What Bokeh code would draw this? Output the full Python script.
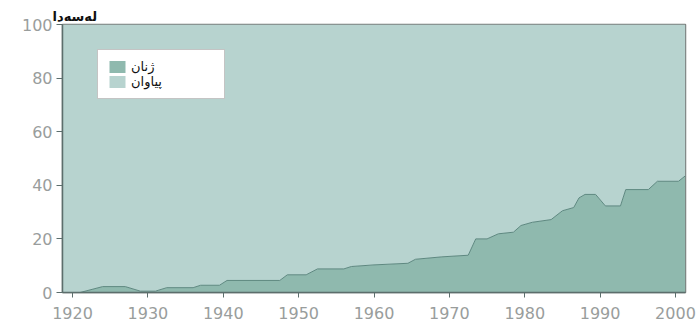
from bokeh.plotting import figure
from bokeh.models import Legend, LegendItem, ColumnDataSource, FixedTicker
from bokeh.embed import file_html
from bokeh.resources import INLINE

# Data (women's share of seats, %)
years = [1918.7, 1921.0, 1924.0, 1927.0, 1929.0, 1931.0, 1932.5, 1936.0, 1937.0,
         1939.5, 1940.5, 1947.5, 1948.5, 1951.0, 1952.5, 1956.0, 1957.0, 1960.0,
         1964.5, 1965.5, 1969.0, 1972.5, 1973.5, 1975.0, 1976.5, 1978.5, 1979.5,
         1981.0, 1983.5, 1985.0, 1986.5, 1987.2, 1988.0, 1989.4, 1990.7, 1992.7,
         1993.4, 1996.4, 1997.6, 2000.4, 2001.3]
women = [0.0, 0.0, 2.2, 2.2, 0.5, 0.5, 1.8, 1.8, 2.7,
         2.7, 4.5, 4.5, 6.6, 6.6, 8.8, 8.8, 9.7, 10.3,
         10.9, 12.4, 13.3, 13.9, 20.0, 20.0, 21.9, 22.5, 25.0,
         26.2, 27.2, 30.5, 31.7, 35.3, 36.6, 36.6, 32.3, 32.3,
         38.4, 38.4, 41.5, 41.5, 43.5]
total = [100.0] * len(years)

x_ticks = [1920, 1930, 1940, 1950, 1960, 1970, 1980, 1990, 2000]
y_ticks = [0, 20, 40, 60, 80, 100]

label_women = "ژنان"
label_men = "پیاوان"
y_title = "لەسەدا"

src = ColumnDataSource(dict(year=years, women=women, total=total))

p = figure(width=697, height=321, output_backend="svg", toolbar_location=None,
           x_range=(1918.67, 2001.33), y_range=(0, 100),
           min_border_left=62, min_border_right=12, min_border_top=24,
           min_border_bottom=29)
p.background_fill_color = "white"
p.border_fill_color = "white"
p.outline_line_color = "#7a7f7e"
p.outline_line_width = 1.5
p.grid.visible = False

p.title.text = y_title
p.title.align = "left"
p.title.offset = -10
p.title.standoff = 2
p.title.text_font = "DejaVu Sans"
p.title.text_font_size = "13px"
p.title.text_font_style = "bold"
p.title.text_color = "#111111"

men_r = p.varea(x="year", y1="women", y2="total", source=src,
                fill_color="#b7d3cf")
women_r = p.varea(x="year", y1=0, y2="women", source=src,
                  fill_color="#8fb9ae")
p.line(x="year", y="women", source=src, line_color="#5e8880", line_width=1)

for ax in (p.xaxis[0], p.yaxis[0]):
    ax.axis_line_color = "#5c6e6c"
    ax.axis_line_width = 1.5
    ax.major_tick_line_color = "#5c6e6c"
    ax.minor_tick_line_color = None
    ax.major_tick_in = 0
    ax.major_label_text_color = "#999d9c"
    ax.major_label_text_font = "DejaVu Sans"
    ax.major_label_text_font_size = "16px"

p.xaxis[0].ticker = FixedTicker(ticks=x_ticks)
p.xaxis[0].major_tick_out = 5
p.xaxis[0].major_label_standoff = 9
p.yaxis[0].ticker = FixedTicker(ticks=y_ticks)
p.yaxis[0].major_tick_out = 6
p.yaxis[0].major_label_standoff = 4

legend = Legend(items=[LegendItem(label=label_women, renderers=[women_r]),
                       LegendItem(label=label_men, renderers=[men_r])],
                location=(35, 193), orientation="vertical",
                glyph_width=20, glyph_height=15, label_height=15,
                label_width=84, label_standoff=4, spacing=0, padding=9,
                margin=0,
                label_text_font="DejaVu Sans", label_text_font_size="13px",
                label_text_color="#111111",
                border_line_color="#8a8a8a", border_line_width=1,
                background_fill_color="white", background_fill_alpha=1)
p.add_layout(legend)

open("out.html", "w").write(file_html(p, INLINE))
